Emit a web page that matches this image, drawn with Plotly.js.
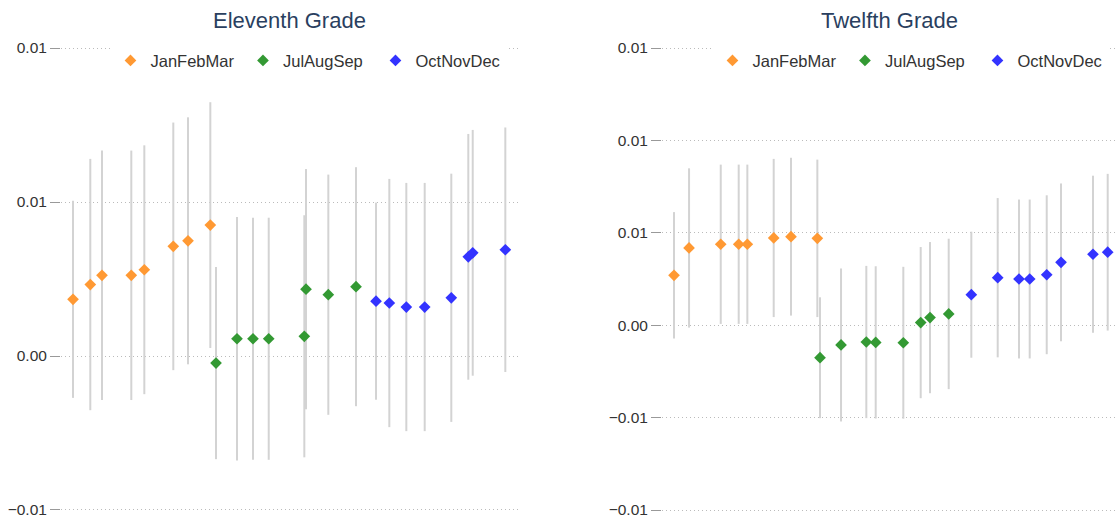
<!DOCTYPE html>
<html>
<head>
<meta charset="utf-8">
<script src="https://cdn.plot.ly/plotly-3.0.1.min.js"></script>
<style>html,body{margin:0;padding:0;background:#fff;}#chart{width:1116px;height:523px;}</style>
</head>
<body>
<div id="chart"></div>
<script>
// ---- Eleventh grade ----
const g11_jfm_x = [2.63, 6.41, 8.97, 15.38, 18.23, 24.57, 27.79, 32.67];
const g11_jfm_y = [0.00184, 0.00232, 0.00262, 0.00262, 0.00280, 0.00356, 0.00374, 0.00425];
const g11_jfm_e = [0.00320, 0.00408, 0.00405, 0.00405, 0.00404, 0.00402, 0.00401, 0.00399];

const g11_jas_x = [33.92, 38.51, 42.01, 45.45, 53.24, 53.61, 58.49, 64.55];
const g11_jas_y = [-0.00023, 0.00056, 0.00056, 0.00056, 0.00064, 0.00217, 0.00199, 0.00225];
const g11_jas_e = [0.00312, 0.00395, 0.00393, 0.00393, 0.00393, 0.00390, 0.00390, 0.00388];

const g11_ond_x = [68.93, 71.84, 75.56, 79.58, 85.40, 89.12, 90.09, 97.22];
const g11_ond_y = [0.00178, 0.00172, 0.00159, 0.00159, 0.00189, 0.00322, 0.00335, 0.00345];
const g11_ond_e = [0.00320, 0.00403, 0.00403, 0.00403, 0.00403, 0.00399, 0.00399, 0.00397];

// ---- Twelfth grade ----
const g12_jfm_x = [2.64, 5.95, 12.93, 16.89, 18.79, 24.60, 28.41, 34.21];
const g12_jfm_y = [0.00270, 0.00418, 0.00438, 0.00438, 0.00438, 0.00472, 0.00479, 0.00470];
const g12_jfm_e = [0.00342, 0.00431, 0.00431, 0.00431, 0.00431, 0.00428, 0.00427, 0.00426];

const g12_jas_x = [34.80, 39.43, 45.00, 47.07, 53.15, 56.98, 59.03, 63.15];
const g12_jas_y = [-0.00176, -0.00107, -0.00091, -0.00093, -0.00095, 0.00014, 0.00041, 0.00061];
const g12_jas_e = [0.00327, 0.00414, 0.00412, 0.00412, 0.00411, 0.00409, 0.00409, 0.00407];

const g12_ond_x = [68.13, 73.94, 78.63, 80.99, 84.74, 87.89, 94.93, 98.17];
const g12_ond_y = [0.00165, 0.00257, 0.00250, 0.00250, 0.00273, 0.00340, 0.00384, 0.00395];
const g12_ond_e = [0.00341, 0.00431, 0.00430, 0.00430, 0.00430, 0.00427, 0.00425, 0.00424];

const seasons = ['JanFebMar', 'JulAugSep', 'OctNovDec'];
const colors = ['#ff9933', '#339933', '#3333ff'];
const subtitles = ['Eleventh Grade', 'Twelfth Grade'];

const grade11 = [[g11_jfm_x, g11_jfm_y, g11_jfm_e], [g11_jas_x, g11_jas_y, g11_jas_e], [g11_ond_x, g11_ond_y, g11_ond_e]];
const grade12 = [[g12_jfm_x, g12_jfm_y, g12_jfm_e], [g12_jas_x, g12_jas_y, g12_jas_e], [g12_ond_x, g12_ond_y, g12_ond_e]];

const traces = [];
function addGrade(data, xa, ya, leg) {
  data.forEach((d, i) => {
    traces.push({
      type: 'scatter', mode: 'markers',
      x: d[0], y: d[1],
      xaxis: xa, yaxis: ya, legend: leg,
      name: seasons[i],
      marker: {symbol: 'diamond', size: 9, color: colors[i]},
      error_y: {type: 'data', array: d[2], visible: true, color: '#d3d3d3', thickness: 2, width: 0}
    });
  });
}
addGrade(grade11, 'x', 'y', 'legend');
addGrade(grade12, 'x2', 'y2', 'legend2');

const font = 'Arial, "Liberation Sans", sans-serif';
const yCommon = {
  showgrid: true, gridcolor: '#bbbbbb', griddash: '1px,3px', gridwidth: 1,
  zeroline: false, showline: false,
  ticks: 'outside', ticklen: 10, tickcolor: '#999999', tickwidth: 1,
  tickformat: '.2f', tickfont: {family: font, size: 15.5, color: '#333333'}
};
const xCommon = {showgrid: false, zeroline: false, showline: false, showticklabels: false, ticks: '', range: [0, 100]};
const legCommon = {
  orientation: 'h', bgcolor: '#ffffff', xanchor: 'left', yanchor: 'top',
  entrywidth: 87.5, entrywidthmode: 'pixels',
  font: {family: font, size: 16.5, color: '#333333'}
};

const layout = {
  width: 1116, height: 523,
  margin: {l: 61, r: 0, t: 40, b: 5},
  paper_bgcolor: '#ffffff', plot_bgcolor: '#ffffff',
  font: {family: font},
  xaxis: Object.assign({}, xCommon, {domain: [0, 0.4332], anchor: 'y'}),
  xaxis2: Object.assign({}, xCommon, {domain: [0.5697, 1], anchor: 'y2'}),
  yaxis: Object.assign({}, yCommon, {anchor: 'x', range: [-0.00526, 0.01026], tickvals: [-0.005, 0, 0.005, 0.01]}),
  yaxis2: Object.assign({}, yCommon, {anchor: 'x2', range: [-0.010433, 0.015433], tickvals: [-0.01, -0.005, 0, 0.005, 0.01, 0.015]}),
  legend: Object.assign({}, legCommon, {x: 0.0469, y: 0.9933}),
  legend2: Object.assign({}, legCommon, {x: 0.6175, y: 0.9933}),
  annotations: subtitles.map((t, i) => ({
    text: t, xref: (i === 0 ? 'x' : 'x2') + ' domain', x: 0.5, yref: 'paper', y: 1.0418,
    xanchor: 'center', yanchor: 'middle', showarrow: false,
    font: {family: font, size: 22, color: '#2a3f5f'}
  })),
  showlegend: true
};

Plotly.newPlot('chart', traces, layout, {displayModeBar: false, staticPlot: true});
</script>
</body>
</html>
